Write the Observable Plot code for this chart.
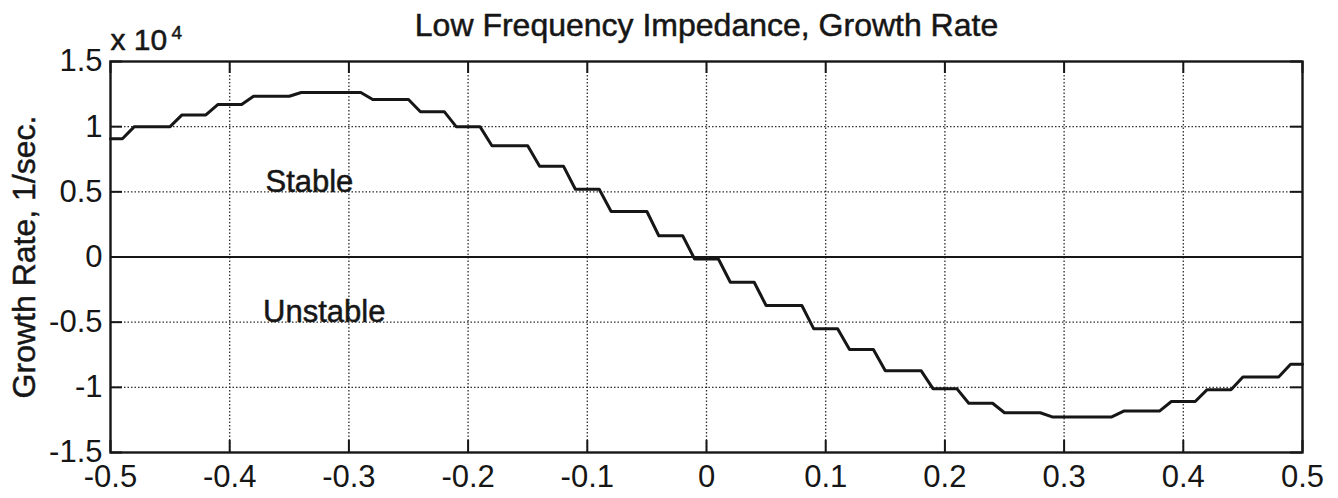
<!DOCTYPE html>
<html>
<head>
<meta charset="utf-8">
<script src="https://cdn.jsdelivr.net/npm/d3@7"></script>
<script src="https://cdn.jsdelivr.net/npm/@observablehq/plot@0.6"></script>
<style>
  html, body { margin: 0; padding: 0; background: #fff; }
</style>
</head>
<body>
<div id="chart"></div>
<script>
// ---- Data ----
const titleText = "Low Frequency Impedance, Growth Rate";
const yLabelText = "Growth Rate, 1/sec.";
const exponentBase = "x 10";
const exponentPower = "4";

// Normalized frequency (x) and growth rate in 1/sec (y), vertices of the plotted curve
const freq = [-0.5, -0.49, -0.48, -0.45, -0.44, -0.42, -0.41, -0.39, -0.38, -0.35,
  -0.34, -0.29, -0.28, -0.25, -0.24, -0.22, -0.21, -0.19, -0.18, -0.15,
  -0.14, -0.12, -0.11, -0.09, -0.08, -0.05, -0.04, -0.02, -0.01, 0.01,
  0.02, 0.04, 0.05, 0.08, 0.09, 0.11, 0.12, 0.14, 0.15, 0.18,
  0.19, 0.21, 0.22, 0.24, 0.25, 0.28, 0.29, 0.34, 0.35, 0.38,
  0.39, 0.41, 0.42, 0.44, 0.45, 0.48, 0.49, 0.5];
const growthRate = [9070, 9070, 10000, 10000, 10900, 10900, 11700, 11700, 12330, 12330,
  12620, 12620, 12080, 12080, 11150, 11150, 10000, 10000, 8540, 8540,
  6970, 6970, 5200, 5200, 3490, 3490, 1630, 1630, -150, -150,
  -1940, -1940, -3720, -3720, -5510, -5510, -7100, -7100, -8720, -8720,
  -10100, -10100, -11220, -11220, -11950, -11950, -12270, -12270, -11820, -11820,
  -11090, -11090, -10180, -10180, -9200, -9200, -8230, -8230];

const xTicks = [-0.5, -0.4, -0.3, -0.2, -0.1, 0, 0.1, 0.2, 0.3, 0.4, 0.5];
const xTickLabels = ["-0.5", "-0.4", "-0.3", "-0.2", "-0.1", "0", "0.1", "0.2", "0.3", "0.4", "0.5"];
const yTicks = [-15000, -10000, -5000, 0, 5000, 10000, 15000];
const yTickLabels = ["-1.5", "-1", "-0.5", "0", "0.5", "1", "1.5"];

const regionLabels = ["Stable", "Unstable"];
const regionX = [-0.37, -0.372];
const regionY = [5000, -5000];

// ---- Build ----
const curve = freq.map((f, i) => ({f, g: growthRate[i]}));
const regions = regionLabels.map((t, i) => ({t, x: regionX[i], y: regionY[i]}));
const xLab = new Map(xTicks.map((d, i) => [d, xTickLabels[i]]));
const yLab = new Map(yTicks.map((d, i) => [d, yTickLabels[i]]));

const W = 1338, H = 498;
const mL = 110, mR = 36, mT = 61, mB = 46;
const innerW = W - mL - mR, innerH = H - mT - mB;
const tickLen = 12;
const ink = "#161616";
const font = "'Liberation Sans', Arial, Helvetica, sans-serif";
const heavy = {stroke: ink, strokeWidth: 0.5, strokeOpacity: 1};

const innerX = xTicks.slice(1, -1);
const innerY = yTicks.slice(1, -1);

const chart = Plot.plot({
  width: W,
  height: H,
  marginLeft: mL,
  marginRight: mR,
  marginTop: mT,
  marginBottom: mB,
  style: {fontFamily: font, background: "#fff", color: ink, overflow: "visible"},
  x: {domain: [-0.5, 0.5]},
  y: {domain: [-15000, 15000]},
  marks: [
    Plot.gridX(innerX, {stroke: ink, strokeOpacity: 0.9, strokeWidth: 1.3, strokeDasharray: "1.5,2"}),
    Plot.gridY(innerY.filter(d => d !== 0), {stroke: ink, strokeOpacity: 0.9, strokeWidth: 1.3, strokeDasharray: "1.5,2"}),
    Plot.ruleY([0], {stroke: ink, strokeWidth: 2}),
    // inward ticks on all four sides
    Plot.tickX(xTicks, {x: d => d, insetTop: innerH - tickLen, stroke: ink, strokeWidth: 2}),
    Plot.tickX(xTicks, {x: d => d, insetBottom: innerH - tickLen, stroke: ink, strokeWidth: 2}),
    Plot.tickY(yTicks, {y: d => d, insetRight: innerW - tickLen, stroke: ink, strokeWidth: 2}),
    Plot.tickY(yTicks, {y: d => d, insetLeft: innerW - tickLen, stroke: ink, strokeWidth: 2}),
    Plot.line(curve, {x: "f", y: "g", stroke: ink, strokeWidth: 3, strokeLinejoin: "round"}),
    Plot.frame({stroke: ink, strokeWidth: 2.4}),
    Plot.axisX(xTicks, {tickSize: 0, tickPadding: 12, fontSize: 31, tickFormat: d => xLab.get(d), label: null, fill: ink, ...heavy}),
    Plot.axisY(yTicks, {tickSize: 0, tickPadding: 8, fontSize: 31, tickFormat: d => yLab.get(d), label: null, fill: ink, ...heavy}),
    Plot.text(regions, {x: "x", y: "y", text: "t", textAnchor: "start", lineAnchor: "bottom", fontSize: 31, fill: ink, ...heavy}),
    Plot.text([titleText], {text: d => d, frameAnchor: "top", textAnchor: "middle", lineAnchor: "bottom", dy: -26, fontSize: 32, fill: ink, ...heavy}),
    Plot.text([exponentBase], {text: d => d, frameAnchor: "top-left", textAnchor: "start", lineAnchor: "bottom", dy: -12, fontSize: 30, fill: ink, ...heavy}),
    Plot.text([exponentPower], {text: d => d, frameAnchor: "top-left", textAnchor: "start", lineAnchor: "bottom", dx: 61, dy: -23, fontSize: 19, fill: ink, ...heavy}),
    Plot.text([yLabelText], {text: d => d, frameAnchor: "left", textAnchor: "middle", lineAnchor: "middle", rotate: -90, dx: -86, fontSize: 32, fill: ink, ...heavy})
  ]
});
document.getElementById("chart").appendChild(chart);
</script>
</body>
</html>
